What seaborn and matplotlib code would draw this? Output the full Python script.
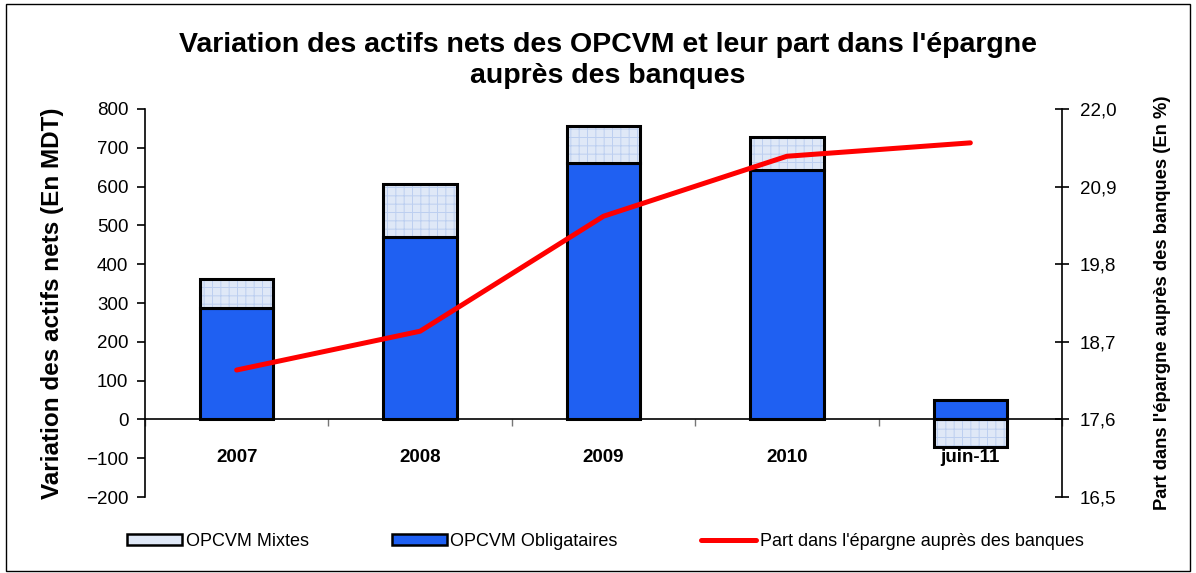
import numpy as np
import pandas as pd
import matplotlib
matplotlib.use("Agg")
import matplotlib.pyplot as plt
import seaborn as sns
from matplotlib.patches import Patch, Rectangle
from matplotlib.lines import Line2D
from matplotlib.ticker import FuncFormatter, MultipleLocator, FixedLocator

categories = ["2007", "2008", "2009", "2010", "juin-11"]
obligataires = [286, 469, 662, 642, 49]
mixtes = [77, 137, 93, 85, -72]
part_epargne = [18.30, 18.85, 20.48, 21.33, 21.52]

title = "Variation des actifs nets des OPCVM et leur part dans l'épargne\nauprès des banques"
left_label = "Variation des actifs nets (En MDT)"
right_label = "Part dans l'épargne auprès des banques (En %)"
legend_labels = ["OPCVM Mixtes", "OPCVM Obligataires", "Part dans l'épargne auprès des banques"]

sns.set_style("white")
plt.rcParams['font.family'] = ['Liberation Sans', 'DejaVu Sans']
plt.rcParams['text.color'] = 'black'
plt.rcParams['axes.labelcolor'] = 'black'
plt.rcParams['xtick.color'] = 'black'
plt.rcParams['ytick.color'] = 'black'

BLUE = "#1f60f2"
LIGHT = "#dfe8f7"
HATCHC = "#bccff0"

fig = plt.figure(figsize=(11.96, 5.73), dpi=100)
ax = fig.add_axes([0.1212, 0.1326, 0.888 - 0.1212, 0.8098 - 0.1326])

df = pd.DataFrame({"cat": categories, "obl": obligataires, "mix": mixtes})
df["mix_bottom"] = [o if m >= 0 else 0 for o, m in zip(obligataires, mixtes)]

sns.barplot(data=df, x="cat", y="obl", color=BLUE, saturation=1, width=0.4,
            edgecolor="black", linewidth=2.2, ax=ax, zorder=2)
plt.rcParams['hatch.linewidth'] = 0.7
x = np.arange(len(categories))
ax.bar(x, df["mix"], bottom=df["mix_bottom"], width=0.4, color=LIGHT,
       hatch="++", edgecolor=HATCHC, linewidth=0, zorder=2)
ax.bar(x, df["mix"], bottom=df["mix_bottom"], width=0.4, fill=False,
       edgecolor="black", linewidth=2.2, zorder=3)

ax.set_xlim(-0.5, len(categories) - 0.5)
ax.set_ylim(-200, 800)
ax.yaxis.set_major_locator(MultipleLocator(100))
ax.axhline(0, color="black", lw=1.2, zorder=4)

for s in ["top", "right"]:
    ax.spines[s].set_visible(False)
ax.spines["bottom"].set_position(("data", 0))
ax.spines["bottom"].set_visible(False)
ax.spines["left"].set_color("black")
ax.spines["left"].set_linewidth(1.2)

ax.set_xlabel("")
ax.set_ylabel(left_label, fontsize=17.5, fontweight="bold", labelpad=16)
ax.tick_params(axis="y", labelsize=13.5, direction="out", length=6, width=1.2, left=True, pad=6)
ax.tick_params(axis="x", which="major", length=0, labelsize=13.5, pad=21)
for t in ax.get_xticklabels():
    t.set_fontweight("bold")
ax.xaxis.set_minor_locator(FixedLocator(np.arange(-0.5, len(categories), 1.0)))
ax.tick_params(axis="x", which="minor", length=5, width=1, direction="out", color="#777777", bottom=True)

ax2 = ax.twinx()
sns.lineplot(x=x, y=part_epargne, color="#ff0000", lw=3.6, ax=ax2, zorder=5)
ax2.set_ylim(16.5, 22.0)
ax2.yaxis.set_major_locator(FixedLocator([16.5, 17.6, 18.7, 19.8, 20.9, 22.0]))
ax2.yaxis.set_major_formatter(FuncFormatter(lambda v, p: f"{v:.1f}".replace(".", ",")))
ax2.tick_params(axis="y", labelsize=13.5, direction="inout", length=10, width=1.2, right=True, pad=8)
for s in ["top", "left", "bottom"]:
    ax2.spines[s].set_visible(False)
ax2.spines["right"].set_color("black")
ax2.spines["right"].set_linewidth(1.2)
ax2.set_ylabel(right_label, fontsize=13.2, fontweight="bold", labelpad=27)

fig.text(0.508, 0.945, title, ha="center", va="top", fontsize=20.5, fontweight="bold", linespacing=1.25)

handles = [Patch(facecolor=LIGHT, edgecolor="black", linewidth=1.8),
           Patch(facecolor=BLUE, edgecolor="black", linewidth=1.8),
           Line2D([0], [0], color="#ff0000", lw=3.6)]
fig.legend(handles, legend_labels, loc="center", bbox_to_anchor=(0.506, 0.055), ncol=3,
           frameon=False, fontsize=13, handlelength=3.05, handleheight=0.6, handletextpad=0.2,
           columnspacing=4.6)

fig.add_artist(Rectangle((0.005, 0.003), 0.99, 0.99, transform=fig.transFigure,
                         fill=False, edgecolor="black", lw=1))

fig.savefig("out.png", dpi=100)
